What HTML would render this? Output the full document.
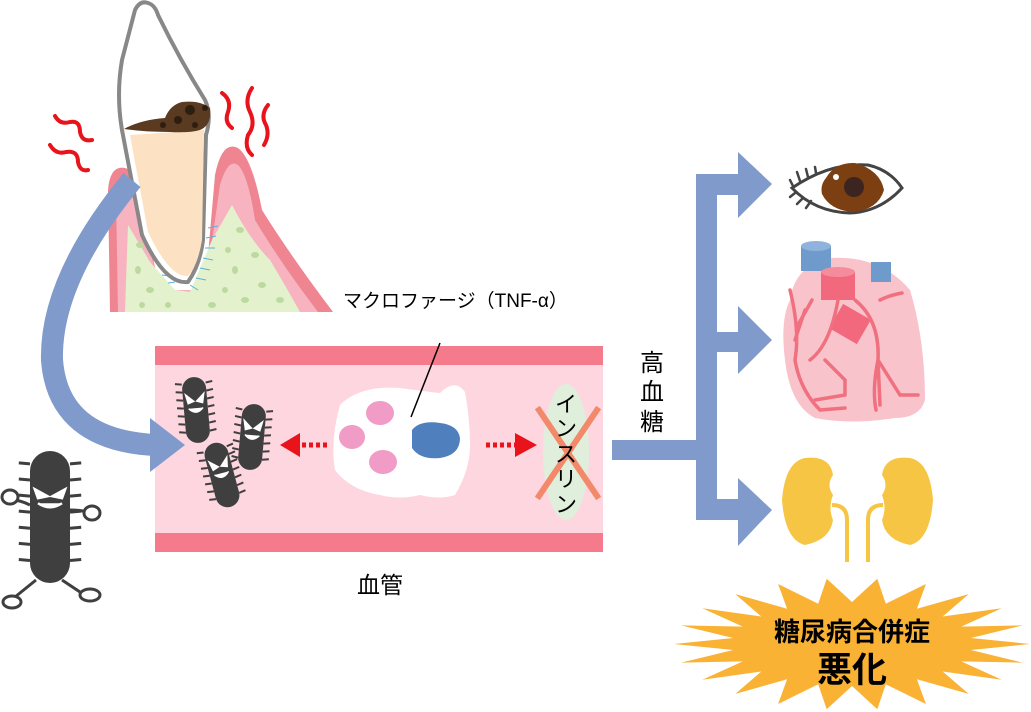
<!DOCTYPE html>
<html><head><meta charset="utf-8">
<style>
html,body{margin:0;padding:0;background:#fff;}
svg{display:block;}
text{font-family:"Liberation Sans","Noto Sans CJK JP",sans-serif;}
</style></head>
<body>
<svg id="s" width="1031" height="712" viewBox="0 0 1031 712" xmlns="http://www.w3.org/2000/svg">
<!-- gum / bone -->
<path d="M110,312 L108,190 Q110,165 125,168 Q140,172 140,200 L160,290 L205,290 L215,175 Q222,140 238,148 Q252,158 262,210 Q290,255 333,312 Z" fill="#f08592"/>
<path d="M118,312 L116,195 Q118,178 128,180 Q138,185 140,210 L160,290 L205,290 L220,185 Q228,158 238,165 Q248,175 255,220 Q280,262 318,312 Z" fill="#f7b3bf"/>
<path d="M125,312 L128,225 L150,262 L175,290 L190,292 L212,240 L232,205 Q250,240 270,260 Q285,285 300,312 Z" fill="#e3f2cd"/>
<g fill="#bcd9a0">
<ellipse cx="140" cy="245" rx="4" ry="3"/><ellipse cx="138" cy="270" rx="3" ry="4"/><ellipse cx="150" cy="290" rx="4" ry="3"/><ellipse cx="142" cy="305" rx="3" ry="3"/><ellipse cx="240" cy="230" rx="4" ry="3"/><ellipse cx="255" cy="255" rx="4" ry="3"/><ellipse cx="235" cy="270" rx="3" ry="4"/><ellipse cx="262" cy="285" rx="4" ry="3"/><ellipse cx="245" cy="300" rx="4" ry="3"/><ellipse cx="225" cy="290" rx="3" ry="3"/><ellipse cx="280" cy="300" rx="4" ry="3"/><ellipse cx="212" cy="305" rx="4" ry="3"/><ellipse cx="168" cy="305" rx="3" ry="3"/><ellipse cx="228" cy="250" rx="3" ry="3"/>
</g>
<g stroke="#5bb0d8" stroke-width="1">
<path d="M150,235 L158,240 M152,245 L160,250 M155,255 L163,258 M158,265 L166,268 M162,275 L170,276 M168,283 L175,282 M208,228 L218,226 M206,238 L216,236 M205,248 L215,248 M203,258 L213,260 M200,268 L210,270 M196,278 L206,280 M190,285 L198,290"/>
</g>
<!-- tooth -->
<path d="M148,3 Q140,0 135,10 L122,60 Q116,95 122,130 L142,235 Q165,285 188,282 Q200,265 203,240 L206,135 Q212,115 205,100 Q180,60 158,15 Q155,5 148,3 Z" fill="#fff" stroke="#888" stroke-width="4" stroke-linejoin="round"/>
<path d="M130,135 L204,130 L202,240 Q198,265 188,276 Q170,278 148,232 Z" fill="#fce2c2"/>
<path d="M124,129 Q140,120 165,118 Q170,105 182,102 Q200,100 210,108 Q212,125 200,130 Q190,133 170,132 Q145,132 124,129 Z" fill="#5a3a20"/>
<g fill="#2e1e10"><circle cx="190" cy="110" r="5"/><circle cx="178" cy="120" r="4"/><circle cx="163" cy="125" r="3"/><circle cx="195" cy="125" r="3"/><circle cx="205" cy="108" r="3"/></g>
<!-- red squiggles -->
<g fill="none" stroke="#e8131b" stroke-width="4" stroke-linecap="round">
<path d="M55,116 Q60,125 70,122 Q80,120 80,132 Q82,142 92,140"/>
<path d="M50,145 Q56,155 66,152 Q78,150 78,162 Q80,172 88,170"/>
<path d="M222,93 Q232,100 228,112 Q224,122 232,128"/>
<path d="M252,88 Q244,100 250,112 Q256,125 248,135 Q244,148 252,155"/>
<path d="M268,105 Q260,115 266,125 Q270,135 264,145"/>
</g>
<!-- blood vessel -->
<rect x="155" y="346" width="448" height="206" fill="#fdd6e0"/>
<rect x="155" y="346" width="448" height="19" fill="#f57a8c"/>
<rect x="155" y="533" width="448" height="19" fill="#f57a8c"/>
<!-- big curved arrow -->
<path d="M132,180 Q50,280 52,360 Q58,440 155,445" fill="none" stroke="#7f9acb" stroke-width="22"/>
<polygon points="150,418 185,445 150,472" fill="#7f9acb"/>
<!-- macrophage -->
<path d="M340,405 Q360,385 400,388 Q430,392 440,393 Q455,378 465,392 Q470,420 470,445 Q470,470 455,495 Q440,500 420,495 Q400,500 380,495 Q350,490 335,470 Q330,440 340,405 Z" fill="#fff"/>
<ellipse cx="380" cy="413" rx="14" ry="12" fill="#f09cc6"/>
<ellipse cx="352" cy="437" rx="13" ry="12" fill="#f09cc6"/>
<ellipse cx="383" cy="462" rx="14" ry="12" fill="#f09cc6"/>
<path d="M412,430 Q420,420 440,423 Q458,425 460,438 Q460,455 440,458 Q420,460 412,448 Z" fill="#4f80bd"/>
<line x1="440" y1="343" x2="411" y2="417" stroke="#000" stroke-width="1.5"/>
<!-- dotted arrows -->
<line x1="327" y1="445" x2="300" y2="445" stroke="#e8131b" stroke-width="5" stroke-dasharray="4,3"/>
<polygon points="300,433 280,445 300,457" fill="#e8131b"/>
<line x1="486" y1="445" x2="515" y2="445" stroke="#e8131b" stroke-width="5" stroke-dasharray="4,3"/>
<polygon points="515,433 537,445 515,457" fill="#e8131b"/>
<!-- insulin -->
<ellipse cx="566" cy="452" rx="23" ry="68" fill="#dfefdc"/>
<g stroke="#f2896a" stroke-width="6" stroke-linecap="square"><line x1="539" y1="410" x2="597" y2="496"/><line x1="597" y1="410" x2="539" y2="496"/></g>
<g font-size="22" fill="#000" text-anchor="middle">
<text x="566" y="412">イ</text><text x="566" y="436">ン</text><text x="566" y="462">ス</text><text x="566" y="487">リ</text><text x="566" y="512">ン</text>
</g>
<!-- small bacteria -->
<g id="bac" fill="#3f3f3f">
</g>
<!-- labels -->
<text x="343" y="307" font-size="19" fill="#000">マクロファージ（TNF-α）</text>
<text x="380" y="593" font-size="23" fill="#000" text-anchor="middle">血管</text>
<g font-size="24" fill="#000" text-anchor="middle"><text x="652" y="371">高</text><text x="652" y="400">血</text><text x="652" y="430">糖</text></g>
<!-- branching arrow -->
<g fill="#7f9acb">
<rect x="612" y="440" width="104" height="20"/>
<rect x="696" y="174" width="21" height="346"/>
<rect x="696" y="174" width="44" height="21"/><polygon points="738,152 772,184 738,218"/>
<rect x="716" y="332" width="24" height="20"/><polygon points="738,306 772,340 738,374"/>
<rect x="716" y="499" width="24" height="21"/><polygon points="738,478 772,510 738,546"/>
</g>
<!-- eye -->
<path d="M792,188 Q830,162 868,165 Q890,170 902,188 Q880,212 850,213 Q815,212 792,188 Z" fill="#fff" stroke="#444" stroke-width="3"/>
<path d="M826,178 Q835,162 855,163 Q880,170 884,190 Q878,210 852,212 Q830,210 822,194 Q820,185 826,178 Z" fill="#7b3f12"/>
<circle cx="854" cy="187" r="10" fill="#3c2520"/><circle cx="836" cy="177" r="3" fill="#fff"/>
<g stroke="#444" stroke-width="2.5" stroke-linecap="round"><path d="M793,186 L790,180 M800,181 L797,172 M808,177 L806,169 M816,173 L815,167 M795,193 L790,197 M803,198 L797,204 M811,201 L806,208"/></g>
<!-- heart -->
<path d="M790,300 Q795,265 830,258 Q880,255 910,290 Q925,340 925,400 Q920,418 895,418 Q850,425 815,418 Q790,405 785,360 Q780,320 790,300 Z" fill="#f9c3cc"/>
<rect x="801" y="246" width="30" height="25" fill="#6e9bcc"/><ellipse cx="816" cy="246" rx="15" ry="5" fill="#8fb3dc"/>
<rect x="871" y="262" width="20" height="20" fill="#6e9bcc"/>
<rect x="821" y="272" width="34" height="28" fill="#f2687c"/><ellipse cx="838" cy="272" rx="17" ry="5" fill="#f58c9c"/>
<rect x="834" y="310" width="32" height="28" fill="#f2687c" transform="rotate(30 850 324)"/>
<g fill="none" stroke="#f0707f" stroke-width="3.5" stroke-linecap="round">
<path d="M790,290 Q800,330 795,360 Q800,390 820,410 M798,325 L812,300 M795,340 L805,310 M810,360 Q830,345 838,300 M820,410 L845,408 M815,400 L845,395 M825,360 L845,380 L845,395 M855,300 Q880,320 878,360 Q872,390 876,410 M880,300 Q890,295 902,293 M878,360 L900,395 L918,395 M878,360 L880,405"/>
</g>
<!-- kidneys -->
<g fill="#f7c544">
<path d="M805,458 Q830,455 833,475 Q826,485 833,495 Q828,508 833,520 Q830,540 805,545 Q785,540 782,500 Q785,462 805,458 Z"/>
<path d="M910,458 Q885,455 882,475 Q889,485 882,495 Q887,508 882,520 Q885,540 910,545 Q930,540 933,500 Q930,462 910,458 Z"/>
</g>
<g fill="none" stroke="#f7c544" stroke-width="4"><path d="M832,505 Q847,505 847,520 L847,562 M883,505 Q868,505 868,520 L868,562"/></g>
<!-- starburst -->
<polygon id="star" fill="#f9b233"/>
<text x="852" y="641" font-size="26" font-weight="bold" fill="#000" text-anchor="middle">糖尿病合併症</text>
<text x="852" y="682" font-size="35" font-weight="bold" fill="#000" text-anchor="middle">悪化</text>
</svg>
<script>
(function(){
var pts=[],n=22,cx=852,cy=644;
for(var i=0;i<n*2;i++){var a=Math.PI*i/n;var o=i%2==0;var rx=o?178:120,ry=o?66:42;pts.push((cx+rx*Math.cos(a)).toFixed(1)+","+(cy+ry*Math.sin(a)).toFixed(1));}
document.getElementById('star').setAttribute('points',pts.join(' '));
var NS="http://www.w3.org/2000/svg",g=document.getElementById('bac');
function bac(cx,cy,w,h,rot,parent,big){
 var gg=document.createElementNS(NS,'g');gg.setAttribute('transform','translate('+cx+','+cy+') rotate('+rot+')');
 var r=document.createElementNS(NS,'rect');r.setAttribute('x',-w/2);r.setAttribute('y',-h/2);r.setAttribute('width',w);r.setAttribute('height',h);r.setAttribute('rx',w/2);r.setAttribute('fill','#3f3f3f');gg.appendChild(r);
 var p='';for(var k=0;k<7;k++){var y=-h/2+h*(k+0.8)/8.2;p+='M'+(-w/2)+','+y+' l-'+(w*0.28)+',-1 M'+(w/2)+','+y+' l'+(w*0.28)+',-1 ';}
 var s=document.createElementNS(NS,'path');s.setAttribute('d',p);s.setAttribute('stroke','#3f3f3f');s.setAttribute('stroke-width',big?3:2);gg.appendChild(s);
 var e=document.createElementNS(NS,'path');var ey=-h*0.18;
 e.setAttribute('d','M'+(-w*0.38)+','+(ey-4)+' L'+(-w*0.06)+','+(ey+3)+' L'+(-w*0.3)+','+(ey+5)+'Z M'+(w*0.38)+','+(ey-4)+' L'+(w*0.06)+','+(ey+3)+' L'+(w*0.3)+','+(ey+5)+'Z M'+(-w*0.3)+','+(ey+10)+' Q0,'+(ey+18)+' '+(w*0.3)+','+(ey+10));
 e.setAttribute('fill','#fff');e.setAttribute('stroke','#fff');e.setAttribute('stroke-width',big?2.5:1.5);gg.appendChild(e);
 parent.appendChild(gg);
}
bac(196,410,24,66,-5,g);bac(252,437,24,66,5,g);bac(222,475,24,66,-15,g);
bac(50,517,40,132,0,g,true);
var l=document.createElementNS(NS,'path');l.setAttribute('d','M30,505 Q20,500 12,500 M70,510 Q80,510 88,512 M36,580 L15,597 M62,580 L80,592');l.setAttribute('stroke','#3f3f3f');l.setAttribute('stroke-width','3');l.setAttribute('fill','none');g.appendChild(l);
[[10,497,8,7],[92,513,8,7],[12,602,9,6],[90,595,10,6]].forEach(function(c){var el=document.createElementNS(NS,'ellipse');el.setAttribute('cx',c[0]);el.setAttribute('cy',c[1]);el.setAttribute('rx',c[2]);el.setAttribute('ry',c[3]);el.setAttribute('fill','#fff');el.setAttribute('stroke','#3f3f3f');el.setAttribute('stroke-width','3');g.appendChild(el);});
})();
</script>
</body></html>
